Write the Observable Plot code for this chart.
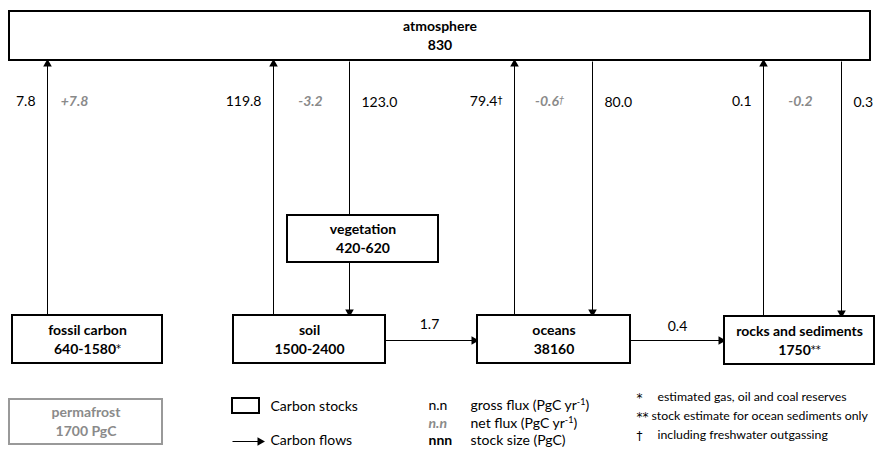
<!DOCTYPE html>
<html>
<head>
<meta charset="utf-8">
<script src="https://cdn.jsdelivr.net/npm/d3@7"></script>
<script src="https://cdn.jsdelivr.net/npm/@observablehq/plot@0.6"></script>
<style>
  html, body { margin: 0; padding: 0; background: #fff; }
  svg { display: block; }
</style>
</head>
<body>
<div id="chart"></div>
<script>
// ---- data ----
const stockNames  = ["atmosphere", "vegetation", "fossil carbon", "soil", "oceans", "rocks and sediments", "permafrost"];
const stockValues = ["830", "420-620", "640-1580*", "1500-2400", "38160", "1750**", "1700 PgC"];

const grossUpFlux   = ["7.8", "119.8", "79.4†", "0.1"];     // into atmosphere
const grossDownFlux = ["123.0", "80.0", "0.3"];            // out of atmosphere
const netFlux       = ["+7.8", "-3.2", "-0.6†", "-0.2"];
const lateralFlux   = ["1.7", "0.4"];

const legendKeys  = ["n.n", "n.n", "nnn"];
const legendDescs = ["gross flux (PgC yr^-1)", "net flux (PgC yr^-1)", "stock size (PgC)"];
const legendItems = ["Carbon stocks", "Carbon flows"];
const noteMarks   = ["*", "**", "†"];
const noteTexts   = ["estimated gas, oil and coal reserves", "stock estimate for ocean sediments only", "including freshwater outgassing"];

// ---- layout (positions in pixels) ----
const boxX1 = [9, 287, 12, 233, 477, 724, 9];
const boxX2 = [870, 438, 162, 385, 630, 874, 162];
const boxY1 = [11, 215, 315, 315, 315, 316, 399];
const boxY2 = [60, 262, 363, 363, 363, 364, 444];

const boxes = stockNames.map((name, i) => ({
  name, value: stockValues[i],
  x1: boxX1[i], x2: boxX2[i], y1: boxY1[i], y2: boxY2[i],
  gray: name === "permafrost"
}));

const upX = [47, 273, 514, 763];
const upY = [315, 315, 315, 316];
const downX = [349, 592, 841];
const netX = [74, 310, 549, 800];

const ups = grossUpFlux.map((v, i) => ({v, x: upX[i], y1: upY[i], y2: 61}));
const downs = grossDownFlux.map((v, i) => ({v, x: downX[i]}));
const nets = netFlux.map((v, i) => ({v, x: netX[i]}));

const links = [
  ...ups.map(d => ({x1: d.x, y1: d.y1, x2: d.x, y2: d.y2, head: "up"})),
  {x1: 349, y1: 61, x2: 349, y2: 215, head: null},
  {x1: 349, y1: 262, x2: 349, y2: 314, head: "down"},
  {x1: 592, y1: 61, x2: 592, y2: 314, head: "down"},
  {x1: 841, y1: 61, x2: 841, y2: 315, head: "down"},
  {x1: 385, y1: 340, x2: 476, y2: 340, head: "right"},
  {x1: 630, y1: 340, x2: 723, y2: 340, head: "right"},
  {x1: 232, y1: 441, x2: 262, y2: 441, head: "right"}
];
const rot = {up: 0, down: 180, right: 90};
const heads = links.filter(d => d.head).map(d => ({
  x: d.x2 + (d.head === "right" ? -2.5 : 0),
  y: d.y2 + (d.head === "up" ? 2.5 : d.head === "down" ? -2.5 : 0),
  r: rot[d.head]
}));

const lateral = lateralFlux.map((v, i) => ({v, x: [429, 677][i], y: [324, 326][i]}));

const FONT = "Lato, 'Open Sans', sans-serif";
const GRAY = "#8a8a8a";
const rowY = [405, 423, 440];
const noteY = [397, 416, 435];

const plot = Plot.plot({
  width: 876, height: 449,
  margin: 0,
  style: {fontFamily: FONT, background: "#fff"},
  x: {domain: [0, 876], range: [0, 876], axis: null},
  y: {domain: [0, 449], range: [0, 449], axis: null},
  marks: [
    Plot.link(links, {x1: "x1", y1: "y1", x2: "x2", y2: "y2", stroke: "#000", strokeWidth: 1}),
    Plot.dot(heads, {x: "x", y: "y", symbol: "triangle", r: 3.2, rotate: "r", fill: "#000", stroke: null}),
    Plot.rect(boxes, {x1: "x1", x2: "x2", y1: "y1", y2: "y2", fill: "#fff",
      stroke: d => d.gray ? "#999" : "#000", strokeWidth: 2}),
    Plot.text(boxes, {x: d => (d.x1 + d.x2) / 2, y: d => (d.y1 + d.y2) / 2 - 9, text: "name",
      fontWeight: "bold", fontSize: 14, fill: d => d.gray ? GRAY : "#000"}),
    Plot.text(boxes, {x: d => (d.x1 + d.x2) / 2, y: d => (d.y1 + d.y2) / 2 + 10, text: "value",
      fontWeight: "bold", fontSize: 14, fill: d => d.gray ? GRAY : "#000"}),
    Plot.text(ups, {x: d => d.x - 12, y: 101, text: "v", textAnchor: "end", fontSize: 14, fill: "#000"}),
    Plot.text(downs, {x: d => d.x + 12, y: 102, text: "v", textAnchor: "start", fontSize: 14, fill: "#000"}),
    Plot.text(nets, {x: "x", y: 101, text: "v", fontSize: 14, fontWeight: "bold", fontStyle: "italic", fill: GRAY}),
    Plot.text(lateral, {x: "x", y: "y", text: "v", fontSize: 14, fill: "#000"}),
    // legend
    Plot.rect([{x1: 232, x2: 259, y1: 398, y2: 413}], {x1: "x1", x2: "x2", y1: "y1", y2: "y2", fill: "#fff", stroke: "#000", strokeWidth: 2}),
    Plot.text(legendItems, {x: 270, y: (d, i) => [406, 440][i], text: d => d, textAnchor: "start", fontSize: 14, fill: "#000"}),
    Plot.text(legendKeys.slice(0, 1), {x: 428, y: rowY[0], text: d => d, textAnchor: "start", fontSize: 14, fill: "#000"}),
    Plot.text(legendKeys.slice(1, 2), {x: 428, y: rowY[1], text: d => d, textAnchor: "start", fontSize: 14, fontStyle: "italic", fontWeight: "bold", fill: GRAY}),
    Plot.text(legendKeys.slice(2, 3), {x: 428, y: rowY[2], text: d => d, textAnchor: "start", fontSize: 14, fontWeight: "bold", fill: "#000"}),
    Plot.text(legendDescs, {x: 470, y: (d, i) => rowY[i], text: d => d, textAnchor: "start", fontSize: 14, fill: "#000"}),
    Plot.text(noteMarks, {x: 636, y: (d, i) => noteY[i] + 1, text: d => d, textAnchor: "start", fontSize: 12, fill: "#000",
      fontFamily: "'DejaVu Sans', sans-serif"}),
    Plot.text(noteTexts, {x: (d, i) => i === 1 ? 651 : 657, y: (d, i) => noteY[i], text: d => d, textAnchor: "start", fontSize: 12.3, fill: "#000"})
  ]
});

// superscripts / small marks
d3.select(plot).selectAll("text").each(function() {
  const el = this;
  if (el.querySelector("tspan")) return;
  const t = el.textContent;
  let m;
  if ((m = t.match(/^(.*)\^(\S+?)(\).*)?$/))) {
    el.textContent = "";
    const s = d3.select(el);
    s.append("tspan").text(m[1]);
    s.append("tspan").attr("font-size", "9").attr("dy", "-5").text(m[2]);
    s.append("tspan").attr("dy", "5").text(m[3] || "");
  } else if (t.length > 2 && (m = t.match(/^(.*?)([*†]+)$/))) {
    el.textContent = "";
    const s = d3.select(el);
    s.append("tspan").text(m[1]);
    s.append("tspan").attr("font-size", "10").attr("font-weight", "normal")
      .attr("font-family", "'DejaVu Sans', sans-serif").attr("dy", "-2").text(m[2]);
  }
});

document.getElementById("chart").appendChild(plot);
</script>
</body>
</html>
